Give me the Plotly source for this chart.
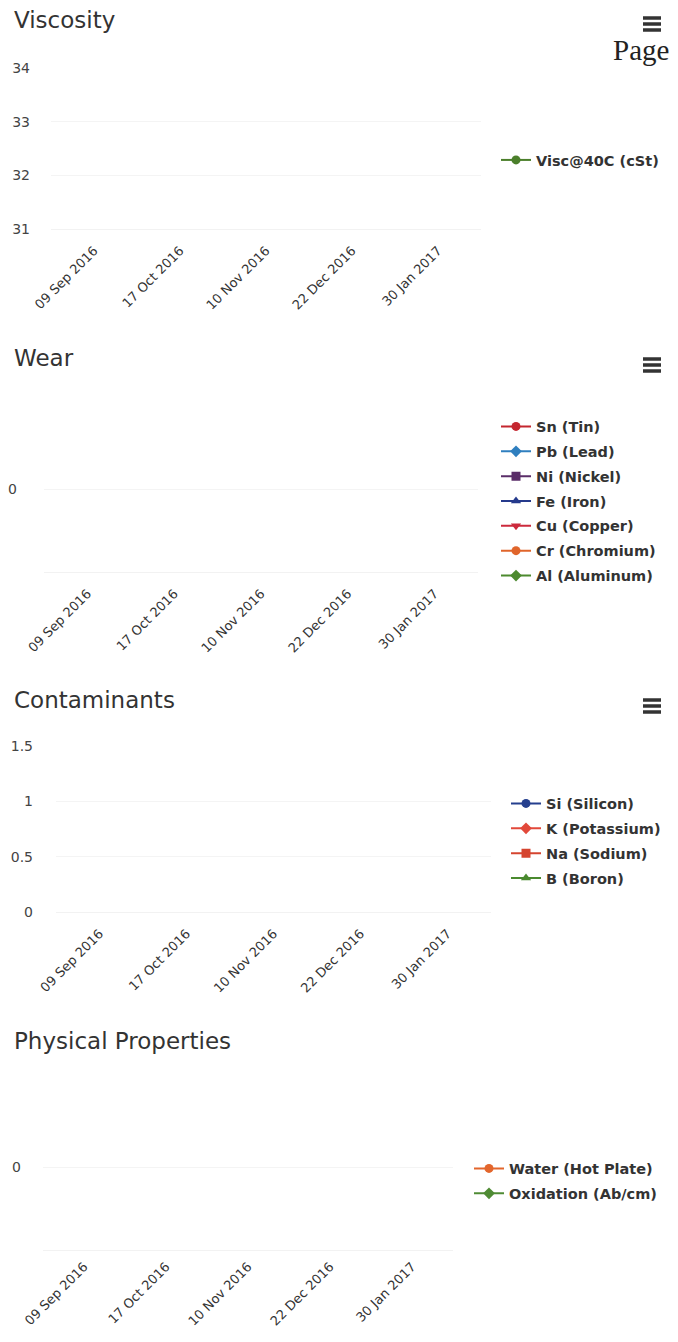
import plotly.graph_objects as go

# the page body keeps its default 8px margin, so the figure is drawn 8px in
OFF = 8
W, H = 678 - OFF, 1342 - 2 * OFF

dates = ["09 Sep 2016", "17 Oct 2016", "10 Nov 2016", "22 Dec 2016", "30 Jan 2017"]

# no readings plotted in any chart, only the legend entries remain
visc_names = ["Visc@40C (cSt)"]
visc_values = [[None, None, None, None, None]]
visc_colors = ["#4b7f2b"]
visc_symbols = ["circle"]

wear_names = ["Sn (Tin)", "Pb (Lead)", "Ni (Nickel)", "Fe (Iron)",
              "Cu (Copper)", "Cr (Chromium)", "Al (Aluminum)"]
wear_values = [[None] * 5 for _ in wear_names]
wear_colors = ["#c4262f", "#2f7fbf", "#5a2d68", "#253a8c",
               "#cc2a3c", "#e0652b", "#4d8a2f"]
wear_symbols = ["circle", "diamond", "square", "triangle-up",
                "triangle-down", "circle", "diamond"]

cont_names = ["Si (Silicon)", "K (Potassium)", "Na (Sodium)", "B (Boron)"]
cont_values = [[None] * 5 for _ in cont_names]
cont_colors = ["#253f8e", "#e2483a", "#d5442f", "#4a8a2f"]
cont_symbols = ["circle", "diamond", "square", "triangle-up"]

phys_names = ["Water (Hot Plate)", "Oxidation (Ab/cm)"]
phys_values = [[None] * 5 for _ in phys_names]
phys_colors = ["#e3662c", "#4f8b34"]
phys_symbols = ["circle", "diamond"]


def px_x(v):
    return (v - OFF) / W


def px_y(v):
    return 1 - (v - OFF) / H


charts = [
    dict(title="Viscosity", title_y=20, names=visc_names, values=visc_values,
         colors=visc_colors, symbols=visc_symbols,
         xdom=(51, 481), ydom=(68, 229), yrange=[31, 34], tickvals=[31, 32, 33, 34],
         standoff=20, xstandoff=8, legend_x=496, legend_y=160, menu_y=24),
    dict(title="Wear", title_y=358, names=wear_names, values=wear_values,
         colors=wear_colors, symbols=wear_symbols,
         xdom=(44, 478), ydom=(406, 572), yrange=[-1, 1], tickvals=[0],
         standoff=26, xstandoff=8, legend_x=496, legend_y=501, menu_y=365),
    dict(title="Contaminants", title_y=700, names=cont_names, values=cont_values,
         colors=cont_colors, symbols=cont_symbols,
         xdom=(56, 491), ydom=(746, 912), yrange=[0, 1.5], tickvals=[0, 0.5, 1, 1.5],
         standoff=22, xstandoff=8, legend_x=506, legend_y=841, menu_y=706),
    dict(title="Physical Properties", title_y=1041, names=phys_names, values=phys_values,
         colors=phys_colors, symbols=phys_symbols,
         xdom=(43, 453), ydom=(1085, 1250), yrange=[-1, 1], tickvals=[0],
         standoff=21, xstandoff=3, legend_x=469, legend_y=1181, menu_y=None),
]

fig = go.Figure()
annotations = []
shapes = []

for i, c in enumerate(charts):
    n = i + 1
    xa = "x" if n == 1 else f"x{n}"
    ya = "y" if n == 1 else f"y{n}"
    leg = "legend" if n == 1 else f"legend{n}"
    for name, vals, col, sym in zip(c["names"], c["values"], c["colors"], c["symbols"]):
        fig.add_trace(go.Scatter(
            x=dates, y=vals, name=name, mode="lines+markers",
            xaxis=xa, yaxis=ya, legend=leg, legendgroup=name,
            line=dict(color=col, width=2),
            marker=dict(color=col, symbol=sym, size=9),
        ))

    xkey = "xaxis" if n == 1 else f"xaxis{n}"
    ykey = "yaxis" if n == 1 else f"yaxis{n}"
    fig.update_layout({
        xkey: dict(
            domain=[px_x(c["xdom"][0]), px_x(c["xdom"][1])],
            anchor=ya, type="category", categoryorder="array", categoryarray=dates,
            range=[-0.5, len(dates) - 0.5], tickangle=-45,
            showgrid=False, zeroline=False, showline=True, linecolor="#f2f2f2",
            ticklabelstandoff=c["xstandoff"],
            tickfont=dict(family="DejaVu Sans", size=13, color="#333333"),
            fixedrange=True,
        ),
        ykey: dict(
            domain=[px_y(c["ydom"][1]), px_y(c["ydom"][0])],
            anchor=xa, range=c["yrange"], tickvals=c["tickvals"],
            showgrid=True, gridcolor="#f4f4f4", zeroline=False, showline=False,
            ticklabelstandoff=c["standoff"],
            tickfont=dict(family="DejaVu Sans", size=14, color="#444444"),
            fixedrange=True,
        ),
        leg: dict(
            x=px_x(c["legend_x"]), y=px_y(c["legend_y"]),
            xanchor="left", yanchor="middle", tracegroupgap=3,
            bgcolor="rgba(0,0,0,0)",
            font=dict(family="DejaVu Sans", size=14.5, color="#333333", weight="bold"),
        ),
    })

    annotations.append(dict(
        text=c["title"], x=px_x(12), y=px_y(c["title_y"]),
        xref="paper", yref="paper", xanchor="left", yanchor="middle",
        showarrow=False, font=dict(family="DejaVu Sans", size=23, color="#333333"),
    ))

    # export menu icon
    if c["menu_y"] is not None:
        for off in (-6, 0, 6):
            shapes.append(dict(
                type="line", xref="paper", yref="paper",
                x0=px_x(643), x1=px_x(661),
                y0=px_y(c["menu_y"] + off), y1=px_y(c["menu_y"] + off),
                line=dict(color="#333333", width=3.5),
            ))

annotations.append(dict(
    text="Page", x=px_x(641), y=px_y(50), xref="paper", yref="paper",
    xanchor="center", yanchor="middle", showarrow=False,
    font=dict(family="Liberation Serif", size=29, color="#222222"),
))

fig.update_layout(
    width=W, height=H,
    margin=dict(l=0, r=0, t=0, b=0, autoexpand=False),
    paper_bgcolor="white", plot_bgcolor="white",
    annotations=annotations, shapes=shapes,
    showlegend=True,
)

fig.write_html("out.html")
